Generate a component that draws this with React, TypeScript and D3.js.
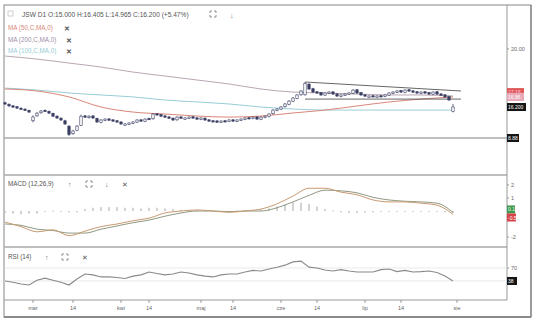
import React from 'react';
import * as d3 from 'd3';

// ---------- data ----------
const startDay = '2015-02-19';
const endDay = '2015-08-03';
const holidays = ['2015-04-03', '2015-04-06', '2015-05-01', '2015-06-04'];
const monthNames = ['sty', 'lut', 'mar', 'kwi', 'maj', 'cze', 'lip', 'sie', 'wrz', 'paź', 'lis', 'gru'];

const opens = [16.48,16.38,16.28,16.22,16.12,16.06,15.98,15.30,15.62,15.82,
 15.98,15.92,15.78,15.60,15.47,15.30,14.95,14.45,14.68,15.00,
 15.62,15.50,15.62,15.45,15.20,15.33,15.42,15.36,15.30,15.22,
 15.05,15.08,15.14,15.21,15.36,15.27,15.45,15.43,15.76,15.70,
 15.62,15.55,15.47,15.36,15.55,15.46,15.47,15.56,15.49,15.40,
 15.47,15.36,15.30,15.29,15.21,15.30,15.27,15.36,15.27,15.34,
 15.40,15.50,15.46,15.55,15.40,15.52,15.58,15.76,15.98,16.06,
 16.22,16.38,16.58,16.77,17.00,17.00,17.70,17.40,17.20,17.14,
 16.98,17.10,17.19,17.06,16.90,16.98,17.06,17.10,17.33,17.14,
 17.00,16.90,16.94,16.90,16.94,16.90,16.98,17.10,17.17,17.27,
 17.16,17.33,17.26,17.20,17.10,17.20,17.14,17.04,17.20,17.06,
 17.00,16.88,15.90];
const highs = [16.55,16.44,16.33,16.27,16.18,16.12,16.03,15.65,15.86,16.00,
 16.04,15.97,15.83,15.66,15.52,15.36,15.00,14.70,15.02,15.70,
 15.68,15.66,15.67,15.50,15.40,15.46,15.47,15.41,15.35,15.27,
 15.14,15.20,15.27,15.40,15.41,15.46,15.50,15.80,15.81,15.75,
 15.67,15.60,15.52,15.59,15.60,15.53,15.59,15.61,15.54,15.53,
 15.52,15.41,15.35,15.34,15.33,15.35,15.40,15.41,15.40,15.46,
 15.53,15.55,15.59,15.60,15.59,15.65,15.79,16.06,16.12,16.26,
 16.46,16.65,16.85,17.05,17.31,17.84,17.76,17.46,17.25,17.19,
 17.17,17.23,17.24,17.11,17.04,17.10,17.17,17.37,17.38,17.19,
 17.05,16.97,16.99,16.97,16.99,17.04,17.17,17.23,17.30,17.32,
 17.36,17.38,17.31,17.25,17.23,17.25,17.19,17.23,17.25,17.11,
 17.05,16.94,16.40];
const lows = [16.34,16.21,16.14,16.07,16.01,15.94,15.81,15.20,15.56,15.76,
 15.88,15.74,15.54,15.42,15.29,15.03,14.30,14.38,14.62,14.95,
 15.48,15.44,15.42,15.16,15.14,15.27,15.29,15.22,15.16,15.03,
 14.99,15.02,15.08,15.15,15.22,15.21,15.35,15.37,15.62,15.54,
 15.48,15.42,15.29,15.30,15.42,15.40,15.41,15.42,15.35,15.34,
 15.29,15.22,15.22,15.16,15.15,15.22,15.21,15.22,15.21,15.28,
 15.34,15.42,15.40,15.35,15.34,15.46,15.52,15.70,15.92,16.00,
 16.16,16.32,16.52,16.71,16.94,16.95,17.32,17.12,17.06,16.93,
 16.92,17.04,16.99,16.86,16.84,16.92,17.00,17.04,17.06,16.93,
 16.86,16.84,16.86,16.84,16.86,16.84,16.92,17.04,17.11,17.12,
 17.10,17.19,17.12,17.06,17.04,17.06,16.99,16.98,16.99,16.93,
 16.80,16.60,15.85];
const closes = [16.40,16.27,16.20,16.13,16.07,16.00,15.87,15.55,15.80,15.94,
 15.94,15.80,15.60,15.48,15.35,15.09,14.40,14.63,14.95,15.60,
 15.54,15.60,15.48,15.22,15.35,15.41,15.35,15.28,15.22,15.09,
 15.09,15.15,15.22,15.35,15.28,15.41,15.41,15.74,15.68,15.60,
 15.54,15.48,15.35,15.54,15.48,15.48,15.54,15.48,15.41,15.48,
 15.35,15.28,15.28,15.22,15.28,15.28,15.35,15.28,15.35,15.41,
 15.48,15.48,15.54,15.41,15.54,15.60,15.74,16.00,16.07,16.20,
 16.40,16.59,16.79,16.99,17.25,17.75,17.38,17.18,17.12,16.99,
 17.12,17.18,17.05,16.92,16.99,17.05,17.12,17.31,17.12,16.99,
 16.92,16.92,16.92,16.92,16.92,16.99,17.12,17.18,17.25,17.18,
 17.31,17.25,17.18,17.12,17.18,17.12,17.05,17.18,17.05,16.99,
 16.86,16.66,16.20];

const maStep = 8;
const ma50 = [17.38,17.25,16.86,16.20,15.87,15.74,15.61,15.54,15.61,15.81,16.00,16.27,16.53,16.72,16.86];
const ma100 = [17.44,17.31,17.12,16.99,16.86,16.66,16.53,16.40,16.20,16.07,16.00,16.00,16.00,16.00,16.00];
const ma200 = [19.54,19.34,19.08,18.82,18.49,18.23,17.97,17.71,17.38,17.18,17.12,17.05,16.99,16.99,16.92];

const trendIdx = [75, 114];
const trendUpper = [17.84, 17.25];
const trendLower = [16.72, 16.72];

const macdStep = 4;
const macdLine = [-0.85,-1.2,-1.6,-1.45,-1.9,-1.55,-1.2,-1.0,-0.75,-0.55,-0.15,0,0.08,0,-0.1,0,0.15,0.55,1.15,1.75,1.75,1.45,1.25,0.85,0.7,0.7,0.6,0.45,-0.25];
const signalLine = [-1.0,-1.1,-1.4,-1.5,-1.7,-1.7,-1.4,-1.15,-0.9,-0.7,-0.4,-0.15,0,0,-0.05,0,0,0.25,0.7,1.2,1.6,1.55,1.4,1.05,0.85,0.75,0.7,0.6,-0.1];
const histStep = 2;
const macdHist = [-0.15,-0.2,-0.25,-0.2,-0.2,-0.05,0.02,-0.05,-0.1,-0.1,0.15,0.25,0.3,0.3,0.3,0.25,0.25,0.2,0.25,0.25,
 0.2,0.15,0.1,0.05,0.05,0.03,0,-0.03,-0.03,0.02,0.05,0.08,0.12,0.2,0.35,0.5,0.65,0.65,0.55,0.35,
 0.15,0.05,-0.1,-0.15,-0.15,-0.12,-0.1,-0.05,-0.03,-0.02,-0.02,-0.02,-0.02,-0.03,-0.05,-0.1,-0.15];

const rsiStep = 2;
const rsi = [38,35,30.5,28,40,45,40,35,28,43,55,53,48,48,46.5,44,50,53,60,56.5,
 53,55,60,57.5,53,50,48,53,55,55,60,64,62.5,67.5,72,77,85,87,72,70,
 65,62.5,66,62.5,60,60,60,66,67.5,61,64,60,61,62.5,59,50,38];

const priceTicks = [20];
const macdTicks = [2, 1, -2];
const rsiTicks = [70];

// ---------- helpers ----------
function tradingDays(a: string, b: string, hol: string[]) {
  const out: Date[] = [];
  const d = new Date(a + 'T00:00:00Z');
  const e = new Date(b + 'T00:00:00Z');
  while (d <= e) {
    const wd = d.getUTCDay();
    const iso = d.toISOString().slice(0, 10);
    if (wd !== 0 && wd !== 6 && !hol.includes(iso)) out.push(new Date(d));
    d.setUTCDate(d.getUTCDate() + 1);
  }
  return out;
}

const FONT = '"Liberation Sans", Arial, sans-serif';

function ExpandIcon({ x, y }: { x: number; y: number }) {
  const s = 2, w = 6;
  const p = `M${x},${y + s}V${y}H${x + s} M${x + w - s},${y}H${x + w}V${y + s} M${x + w},${y + w - s}V${y + w}H${x + w - s} M${x + s},${y + w}H${x}V${y + w - s}`;
  return <path d={p} fill="none" stroke="#777" strokeWidth={0.8} />;
}

export default function App() {
  const dates = tradingDays(startDay, endDay, holidays);
  const n = closes.length;

  const L = 4, R = 531, T = 5, B = 317, AX = 507;
  const mainBottom = 138, volBottom = 175, macdBottom = 247, rsiBottom = 300;

  const x = d3.scaleLinear().domain([0, dates.length - 1]).range([5, 457]);
  const yP = d3.scaleLinear().domain([14, 22]).range([140.6, 18.5]);
  const yM = d3.scaleLinear().domain([-2, 2]).range([237, 185]);
  const yR = d3.scaleLinear().domain([0, 100]).range([296.4, 255.8]);

  const mkLine = (step: number, y: d3.ScaleLinear<number, number>) =>
    d3.line<number>().x((_, k) => x(k * step)).y(d => y(d)).curve(d3.curveMonotoneX);

  const maLine = mkLine(maStep, yP);
  const macdGen = mkLine(macdStep, yM);
  const rsiGen = d3.line<number>().x((_, k) => x(k * rsiStep)).y(d => yR(d));

  // ticks on date axis
  const ticks: { i: number; label: string }[] = [];
  dates.forEach((d, i) => {
    if (i === 0) return;
    const p = dates[i - 1];
    if (d.getUTCMonth() !== p.getUTCMonth()) ticks.push({ i, label: monthNames[d.getUTCMonth()] });
    else if (d.getUTCDate() >= 14 && p.getUTCDate() < 14) ticks.push({ i, label: '14' });
  });

  const candleColor = '#3b3f63';
  const bw = 2.4;

  const axisBox = (yc: number, label: string, fill: string, txt = '#fff', w = 17) => (
    <g>
      <rect x={AX} y={yc - 4} width={w} height={8} fill={fill} />
      <text x={AX + 1} y={yc + 2} fontSize={5} fill={txt} fontFamily={FONT}>{label}</text>
    </g>
  );

  return (
    <svg width={536} height={335} style={{ position: 'absolute', left: 0, top: 0, background: '#fff' }}>
      <rect x={0} y={0} width={536} height={335} fill="#fff" />
      {/* frame */}
      <rect x={L} y={T} width={R - L} height={B - T} fill="none" stroke="#9a9a9a" strokeWidth={1.2} />
      <line x1={L} x2={R} y1={B} y2={B} stroke="#777" strokeWidth={1.5} />
      <line x1={R} x2={R} y1={T} y2={B} stroke="#888" strokeWidth={1.3} />
      {/* panel separators */}
      {[mainBottom, volBottom, macdBottom].map((yy, k) => (
        <line key={k} x1={L} x2={AX} y1={yy} y2={yy} stroke="#a8a8a8" strokeWidth={1.6} />
      ))}
      <line x1={L} x2={AX} y1={rsiBottom} y2={rsiBottom} stroke="#999" strokeWidth={1} />
      <line x1={AX} x2={AX} y1={T} y2={rsiBottom} stroke="#999" strokeWidth={1} />

      {/* moving averages */}
      <path d={maLine(ma200) || ''} fill="none" stroke="#b9a6b4" strokeWidth={1} />
      <path d={maLine(ma100) || ''} fill="none" stroke="#98cdd6" strokeWidth={1} />
      <path d={maLine(ma50) || ''} fill="none" stroke="#d9877a" strokeWidth={1} />

      {/* trend lines */}
      <line x1={x(trendIdx[0])} x2={x(trendIdx[1])} y1={yP(trendUpper[0])} y2={yP(trendUpper[1])} stroke="#555" strokeWidth={0.9} />
      <line x1={x(trendIdx[0])} x2={x(trendIdx[1])} y1={yP(trendLower[0])} y2={yP(trendLower[1])} stroke="#555" strokeWidth={0.9} />

      {/* candles */}
      {closes.map((c, i) => {
        const o = opens[i];
        const cx = x(i);
        const top = yP(Math.max(o, c));
        const bot = yP(Math.min(o, c));
        const h = Math.max(1.3, bot - top);
        const bull = c >= o;
        return (
          <g key={i}>
            <line x1={cx} x2={cx} y1={yP(highs[i])} y2={yP(lows[i])} stroke={candleColor} strokeWidth={0.8} />
            <rect x={cx - bw / 2} y={top} width={bw} height={h} fill={bull ? '#fff' : candleColor} stroke={candleColor} strokeWidth={0.6} />
          </g>
        );
      })}

      {/* price axis */}
      {priceTicks.map(t => (
        <g key={t}>
          <line x1={AX} x2={AX + 2} y1={yP(t)} y2={yP(t)} stroke="#999" />
          <text x={AX + 4} y={yP(t) + 2} fontSize={5.5} fill="#666" fontFamily={FONT}>{t.toFixed(2)}</text>
        </g>
      ))}
      {axisBox(yP(17.18), '17.18', '#e05a5a', '#fbd')}
      {axisBox(yP(16.86), '16.86', '#e8a8b8', '#fff')}
      {axisBox(yP(closes[n - 1]), closes[n - 1].toFixed(3), '#151515', '#fff', 19)}
      {axisBox(mainBottom, '8.88', '#151515', '#fff', 12)}

      {/* header legend */}
      <rect x={8} y={11} width={5} height={5} fill="none" stroke="#bbb" strokeWidth={0.7} />
      <text x={22} y={17} fontSize={6.6} fill="#555" fontFamily={FONT}>JSW D1  O:15.000  H:16.405  L:14.965  C:16.200  (+5.47%)</text>
      <ExpandIcon x={210} y={11} />
      <text x={230} y={17.5} fontSize={7} fill="#777" fontFamily={FONT}>↓</text>
      <text x={8} y={30} fontSize={6.3} fill="#d9877a" fontFamily={FONT}>MA (50,C,MA,0)</text>
      <text x={64} y={30.5} fontSize={7} fill="#555" fontFamily={FONT} fontWeight="bold">✕</text>
      <text x={8} y={42} fontSize={6.3} fill="#9e8ea8" fontFamily={FONT}>MA (200,C,MA,0)</text>
      <text x={66} y={42.5} fontSize={7} fill="#555" fontFamily={FONT} fontWeight="bold">✕</text>
      <text x={8} y={53} fontSize={6.3} fill="#98cdd6" fontFamily={FONT}>MA (100,C,MA,0)</text>
      <text x={66} y={53.5} fontSize={7} fill="#555" fontFamily={FONT} fontWeight="bold">✕</text>

      {/* MACD panel */}
      {macdHist.map((v, k) => {
        const yy = yM(v), y0 = yM(0);
        const top = Math.min(yy, y0), h = Math.max(1, Math.abs(yy - y0));
        return <rect key={k} x={x(k * histStep) - 0.6} y={v >= 0 ? top : y0} width={1.2} height={h} fill="#b5b5b5" />;
      })}
      <path d={macdGen(signalLine) || ''} fill="none" stroke="#8f9a82" strokeWidth={1} />
      <path d={macdGen(macdLine) || ''} fill="none" stroke="#c99b72" strokeWidth={1} />
      <text x={8} y={186} fontSize={6.3} fill="#555" fontFamily={FONT}>MACD (12,26,9)</text>
      <text x={68} y={187} fontSize={7} fill="#666" fontFamily={FONT}>↑</text>
      <ExpandIcon x={86} y={181} />
      <text x={105} y={187} fontSize={7} fill="#666" fontFamily={FONT}>↓</text>
      <text x={122} y={187} fontSize={7} fill="#555" fontFamily={FONT}>✕</text>
      {macdTicks.map(t => (
        <g key={t}>
          <line x1={AX} x2={AX + 2} y1={yM(t)} y2={yM(t)} stroke="#999" />
          <text x={AX + 4} y={yM(t) + 2} fontSize={5.5} fill="#666" fontFamily={FONT}>{t}</text>
        </g>
      ))}
      {axisBox(yM(0.12), '0.1', '#3d9a4c', '#fff', 8)}
      {axisBox(yM(-0.5), '-0.5', '#d64545', '#fff', 9)}

      {/* RSI panel */}
      <line x1={L} x2={AX} y1={yR(70)} y2={yR(70)} stroke="#e2e2e2" strokeWidth={0.8} />
      <line x1={L} x2={AX} y1={yR(rsi[rsi.length - 1])} y2={yR(rsi[rsi.length - 1])} stroke="#e2e2e2" strokeWidth={0.8} />
      <path d={rsiGen(rsi) || ''} fill="none" stroke="#8a8a8a" strokeWidth={1.1} />
      <text x={8} y={259} fontSize={6.3} fill="#555" fontFamily={FONT}>RSI (14)</text>
      <text x={45} y={260} fontSize={7} fill="#666" fontFamily={FONT}>↑</text>
      <ExpandIcon x={62} y={254} />
      <text x={82} y={260} fontSize={7} fill="#555" fontFamily={FONT}>✕</text>
      {rsiTicks.map(t => (
        <g key={t}>
          <line x1={AX} x2={AX + 2} y1={yR(t)} y2={yR(t)} stroke="#999" />
          <text x={AX + 4} y={yR(t) + 2} fontSize={5.5} fill="#666" fontFamily={FONT}>{t}</text>
        </g>
      ))}
      {axisBox(yR(rsi[rsi.length - 1]), String(Math.round(rsi[rsi.length - 1])), '#151515', '#fff', 10)}

      {/* date axis */}
      {ticks.map(t => (
        <g key={t.i}>
          <line x1={x(t.i)} x2={x(t.i)} y1={rsiBottom} y2={rsiBottom + 3} stroke="#888" strokeWidth={0.8} />
          <text x={x(t.i)} y={rsiBottom + 10} fontSize={5.5} fill="#666" textAnchor="middle" fontFamily={FONT}>{t.label}</text>
        </g>
      ))}
    </svg>
  );
}
